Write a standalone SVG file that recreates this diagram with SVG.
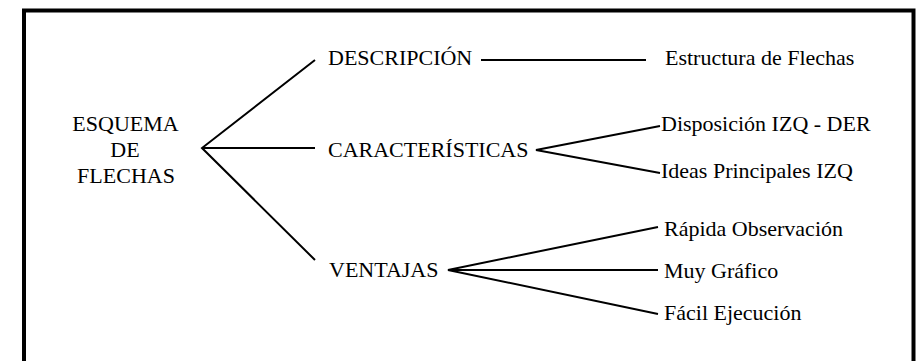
<svg xmlns="http://www.w3.org/2000/svg" width="917" height="361" viewBox="0 0 917 361">
<style>
text{font-family:'Liberation Serif','Times New Roman',serif;font-size:22px;fill:#000}
.c{text-anchor:middle}
.ln{stroke:#000;stroke-width:2;fill:none}
</style>
<rect x="0" y="0" width="917" height="361" fill="#fff"/>
<rect x="24" y="10.5" width="889.5" height="370" fill="none" stroke="#000" stroke-width="4"/>
<g id="connectors">
<path class="ln" d="M315 60 L202 148 L315 260 M202 148 H315"/>
<path class="ln" d="M481 60 H646"/>
<path class="ln" d="M660 126 L536 150 L660 173"/>
<path class="ln" d="M658 227 L448 270 L658 314 M448 270 H658"/>
</g>
<g id="root"><text class="c" x="125.5" y="131">ESQUEMA</text><text class="c" x="125" y="157">DE</text><text class="c" x="126" y="183">FLECHAS</text></g>
<g id="descripcion"><text x="328" y="65">DESCRIPCIÓN</text></g>
<g id="caracteristicas"><text x="328" y="157">CARACTERÍSTICAS</text></g>
<g id="ventajas"><text x="329" y="277">VENTAJAS</text></g>
<g id="estructura"><text x="665" y="65">Estructura de Flechas</text></g>
<g id="disposicion"><text x="661" y="131">Disposición IZQ - DER</text></g>
<g id="ideas"><text x="661" y="178">Ideas Principales IZQ</text></g>
<g id="rapida"><text x="664" y="236">Rápida Observación</text></g>
<g id="muy"><text x="664" y="278">Muy Gráfico</text></g>
<g id="facil"><text x="664" y="320">Fácil Ejecución</text></g>
</svg>
